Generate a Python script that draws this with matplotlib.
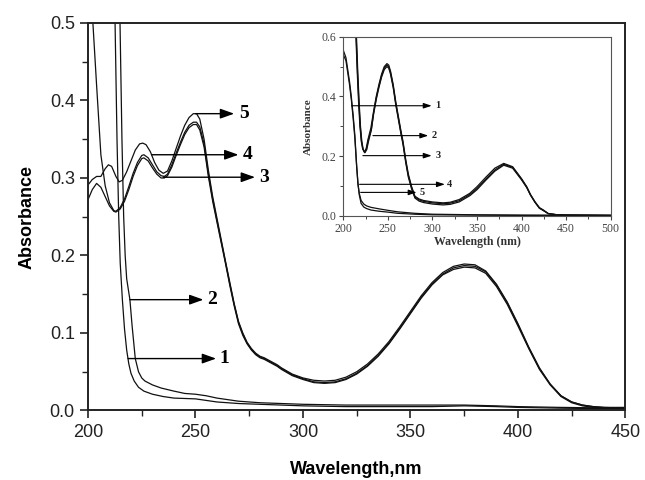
import matplotlib
matplotlib.use("Agg")
import matplotlib.pyplot as plt
from matplotlib.ticker import MultipleLocator

# ---- main panel data (wavelength nm, absorbance) ----
x_c1 = [212.3, 212.6, 213.5, 214.3, 215, 216, 217, 218, 219, 220, 221.5, 223.5, 226, 230, 235, 240,
        245, 250, 255, 260, 270, 280, 300, 320, 340, 360, 375, 390, 400, 420, 450]
y_c1 = [0.55, 0.5, 0.35, 0.25, 0.19, 0.143, 0.105, 0.078, 0.060, 0.048, 0.038, 0.030, 0.025, 0.021,
        0.018, 0.016, 0.0155, 0.015, 0.013, 0.011, 0.009, 0.008, 0.006, 0.005, 0.005, 0.005, 0.006,
        0.005, 0.004, 0.003, 0.002]

x_c2 = [214.6, 214.9, 215.8, 216.6, 217.3, 218, 219.5, 220.5, 222, 223.5, 225, 226.5, 230, 234, 240,
        245, 250, 255, 260, 270, 280, 300, 320, 340, 360, 375, 390, 400, 420, 450]
y_c2 = [0.55, 0.5, 0.35, 0.25, 0.2, 0.17, 0.143, 0.11, 0.067, 0.050, 0.042, 0.038, 0.033, 0.029, 0.025,
        0.022, 0.021, 0.019, 0.016, 0.012, 0.010, 0.008, 0.007, 0.007, 0.007, 0.007, 0.006, 0.005,
        0.004, 0.003]

# shared tail wavelengths for curves 3-5
x_tail = [252, 254, 256, 258, 260, 262, 264, 266, 268, 270, 272, 274, 276, 278, 280, 282, 284, 286,
          288, 290, 295, 300, 305, 310, 315, 320, 325, 330, 335, 340, 345, 350, 355, 360, 365, 370,
          375, 380, 385, 390, 395, 400, 405, 410, 415, 420, 425, 430, 435, 440, 450]

x_c3 = [200, 202, 204, 206, 208, 210, 212, 213, 215, 217, 219, 221, 223, 225, 226, 228, 230, 232, 234,
        235.5, 237, 239, 241, 243, 245, 247, 249, 250.5] + x_tail
y_c3 = [0.272, 0.285, 0.293, 0.288, 0.276, 0.264, 0.257, 0.256, 0.260, 0.270, 0.285, 0.302, 0.316,
        0.325, 0.326, 0.322, 0.313, 0.305, 0.300, 0.300, 0.303, 0.314, 0.329, 0.343, 0.356, 0.365,
        0.369, 0.369,
        0.362, 0.340, 0.302, 0.270, 0.243, 0.216, 0.189, 0.161, 0.135, 0.112, 0.097, 0.086, 0.078,
        0.072, 0.068, 0.066, 0.063, 0.060, 0.057, 0.053, 0.045, 0.040, 0.036, 0.035, 0.036, 0.040,
        0.047, 0.057, 0.070, 0.086, 0.105, 0.125, 0.145, 0.162, 0.175, 0.182, 0.185, 0.184, 0.177,
        0.160, 0.137, 0.109, 0.080, 0.053, 0.033, 0.018, 0.010, 0.006, 0.004, 0.003, 0.003]

x_c4 = [201, 204, 206, 208, 210, 212, 213, 215, 217, 219, 221, 223, 225, 226, 228, 230, 232, 234,
        235.5, 237, 239, 241, 243, 245, 247, 249, 250.5] + x_tail
y_c4 = [0.56, 0.42, 0.33, 0.29, 0.268, 0.258, 0.257, 0.262, 0.273, 0.289, 0.306, 0.320, 0.329, 0.330,
        0.326, 0.317, 0.308, 0.303, 0.302, 0.305, 0.317, 0.332, 0.346, 0.359, 0.368, 0.372, 0.372,
        0.366, 0.344, 0.305, 0.273, 0.245, 0.218, 0.191, 0.163, 0.137, 0.114, 0.099, 0.087, 0.079,
        0.073, 0.069, 0.067, 0.064, 0.061, 0.058, 0.054, 0.046, 0.041, 0.037, 0.036, 0.037, 0.041,
        0.048, 0.058, 0.071, 0.087, 0.106, 0.126, 0.146, 0.163, 0.176, 0.184, 0.187, 0.186, 0.179,
        0.162, 0.139, 0.111, 0.081, 0.054, 0.034, 0.019, 0.011, 0.007, 0.005, 0.004, 0.003]

x_c5 = [200, 202, 204, 206, 208, 209.5, 211, 213, 214.5, 216, 218, 220, 222, 224, 225.5, 227, 229, 231,
        233, 235, 237, 239, 241, 243, 245, 247, 249, 250.5] + x_tail
y_c5 = [0.291, 0.298, 0.302, 0.302, 0.312, 0.317, 0.315, 0.302, 0.295, 0.297, 0.308, 0.322, 0.336,
        0.344, 0.345, 0.343, 0.334, 0.320, 0.310, 0.306, 0.309, 0.322, 0.338, 0.354, 0.368, 0.378,
        0.383, 0.383,
        0.376, 0.350, 0.310, 0.276, 0.248, 0.220, 0.192, 0.165, 0.138, 0.115, 0.100, 0.088, 0.080,
        0.074, 0.070, 0.068, 0.065, 0.062, 0.059, 0.055, 0.047, 0.042, 0.039, 0.038, 0.039, 0.043,
        0.050, 0.060, 0.073, 0.089, 0.108, 0.128, 0.148, 0.165, 0.178, 0.186, 0.189, 0.188, 0.180,
        0.163, 0.140, 0.112, 0.082, 0.055, 0.034, 0.019, 0.011, 0.007, 0.005, 0.004, 0.004]

# arrows: label, y, start x, tip x, label x
main_arrows = [("5", 0.383, 250.0, 268.0, 270.5),
               ("4", 0.330, 229.6, 270.0, 272.0),
               ("3", 0.301, 235.0, 277.7, 279.5),
               ("2", 0.143, 219.5, 253.7, 255.2),
               ("1", 0.067, 218.7, 259.6, 261.0)]

# ---- inset data ----
xi_1 = [200, 203, 205, 207, 209, 211, 213, 215, 216.5, 218, 220, 223, 226, 231, 240, 250, 261, 280,
        300, 350, 400, 500]
yi_1 = [0.555, 0.53, 0.49, 0.45, 0.40, 0.34, 0.27, 0.17, 0.11, 0.07, 0.042, 0.030, 0.025, 0.020,
        0.016, 0.013, 0.009, 0.006, 0.004, 0.003, 0.002, 0.001]
xi_2 = [200, 203, 205, 207, 209, 211, 213, 215, 216.5, 218, 220, 223, 226, 231, 240, 250, 261, 280,
        300, 350, 400, 500]
yi_2 = [0.54, 0.52, 0.48, 0.44, 0.39, 0.33, 0.26, 0.165, 0.105, 0.075, 0.052, 0.040, 0.034, 0.029,
        0.024, 0.019, 0.014, 0.009, 0.006, 0.004, 0.003, 0.002]

xi_tail = [253, 256, 259, 262, 265, 267, 270, 273, 276.7, 280.4, 285, 290, 300, 312, 320, 330, 342,
           350, 360, 370, 380, 390, 400, 405.8, 410, 415, 420, 424.5, 430, 440, 450, 500]
xi_3 = [213.8, 214.8, 216.3, 217.8, 219.3, 220.8, 222.3, 224.3, 226.3, 228.3, 231.5, 234, 237, 240,
        243, 246, 249, 251] + xi_tail
yi_3 = [0.65, 0.6, 0.48, 0.38, 0.30, 0.25, 0.223, 0.212, 0.222, 0.250, 0.288, 0.34, 0.39, 0.43, 0.465,
        0.49, 0.50, 0.495,
        0.475, 0.43, 0.37, 0.32, 0.27, 0.24, 0.18, 0.13, 0.090, 0.060, 0.050, 0.045, 0.040, 0.037,
        0.039, 0.047, 0.068, 0.088, 0.120, 0.150, 0.170, 0.160, 0.121, 0.095, 0.070, 0.046, 0.026,
        0.018, 0.008, 0.004, 0.003, 0.002]
xi_4 = [213.5, 214.5, 216, 217.5, 219, 220.5, 222, 224, 226, 228, 231.5, 234, 237, 240, 243, 246, 249,
        251] + xi_tail
yi_4 = [0.65, 0.6, 0.48, 0.38, 0.30, 0.25, 0.225, 0.212, 0.224, 0.253, 0.290, 0.345, 0.395, 0.435,
        0.47, 0.495, 0.505, 0.50,
        0.48, 0.435, 0.375, 0.325, 0.275, 0.245, 0.185, 0.135, 0.095, 0.064, 0.054, 0.049, 0.044,
        0.041, 0.043, 0.051, 0.072, 0.092, 0.124, 0.154, 0.173, 0.163, 0.123, 0.097, 0.071, 0.047,
        0.027, 0.019, 0.008, 0.004, 0.003, 0.002]
xi_5 = [213.2, 214.2, 215.7, 217.2, 218.7, 220.2, 221.7, 223.7, 225.7, 227.7, 231, 234, 237, 240, 243,
        246, 249, 251] + xi_tail
yi_5 = [0.65, 0.6, 0.48, 0.38, 0.30, 0.25, 0.225, 0.214, 0.226, 0.256, 0.295, 0.35, 0.40, 0.44, 0.475,
        0.50, 0.51, 0.505,
        0.485, 0.44, 0.38, 0.33, 0.28, 0.25, 0.19, 0.14, 0.098, 0.066, 0.057, 0.052, 0.047, 0.044,
        0.046, 0.055, 0.076, 0.098, 0.130, 0.160, 0.176, 0.165, 0.125, 0.098, 0.072, 0.048, 0.028,
        0.020, 0.008, 0.004, 0.003, 0.002]

inset_arrows = [("1", 0.369, 209.4, 299.2, 303.5),
                ("2", 0.269, 233.3, 295.4, 298.7),
                ("3", 0.202, 222.0, 299.2, 303.5),
                ("4", 0.106, 218.3, 314.0, 316.7),
                ("5", 0.079, 219.5, 282.3, 285.5)]

sans = ["Liberation Sans", "DejaVu Sans"]
serif = ["Liberation Serif", "DejaVu Serif"]

fig = plt.figure(figsize=(6.45, 4.8), dpi=100)
ax = fig.add_axes([0.1364, 0.1448, 0.8333, 0.8073])

for xs, ys in [(x_c1, y_c1), (x_c2, y_c2), (x_c3, y_c3), (x_c4, y_c4), (x_c5, y_c5)]:
    ax.plot(xs, ys, color="#111111", lw=0.9)

ax.set_xlim(200, 450)
ax.set_ylim(0, 0.5)
ax.xaxis.set_major_locator(MultipleLocator(50))
ax.xaxis.set_minor_locator(MultipleLocator(25))
ax.yaxis.set_major_locator(MultipleLocator(0.1))
ax.yaxis.set_minor_locator(MultipleLocator(0.05))
ax.tick_params(which="major", direction="out", length=6, width=1.2, labelsize=13, colors="#222222")
ax.tick_params(which="minor", direction="out", length=4, width=1.0, colors="#222222")
ax.tick_params(axis="x", pad=4)
for lab in ax.get_xticklabels() + ax.get_yticklabels():
    lab.set_family(sans)
for sp in ax.spines.values():
    sp.set_linewidth(1.4)
    sp.set_color("#222222")
ax.set_xlabel("Wavelength,nm", family=sans, fontsize=13, fontweight="bold", labelpad=14)
ax.set_ylabel("Absorbance", family=sans, fontsize=13, fontweight="bold", labelpad=10)

for lab, y, x0, x1, xl in main_arrows:
    ax.annotate("", xy=(x1, y), xytext=(x0, y),
                arrowprops=dict(arrowstyle="-|>,head_length=0.7,head_width=0.25", color="black",
                                lw=1.0, shrinkA=0, shrinkB=0, mutation_scale=12))
    ax.text(xl, y, lab, family=serif, fontsize=14, fontweight="bold", va="center", ha="left")

# ---- inset ----
ins = fig.add_axes([0.5322, 0.55, 0.4146, 0.3735])
for xs, ys in [(xi_1, yi_1), (xi_2, yi_2), (xi_3, yi_3), (xi_4, yi_4), (xi_5, yi_5)]:
    ins.plot(xs, ys, color="#111111", lw=0.9)
ins.set_xlim(200, 500)
ins.set_ylim(0, 0.6)
ins.xaxis.set_major_locator(MultipleLocator(50))
ins.xaxis.set_minor_locator(MultipleLocator(25))
ins.yaxis.set_major_locator(MultipleLocator(0.2))
ins.yaxis.set_minor_locator(MultipleLocator(0.1))
ins.tick_params(which="major", direction="out", length=3, width=0.8, labelsize=8.5, colors="#444444",
                pad=2)
ins.tick_params(which="minor", direction="out", length=2, width=0.7, colors="#444444")
for lab in ins.get_xticklabels() + ins.get_yticklabels():
    lab.set_family(serif)
for sp in ins.spines.values():
    sp.set_linewidth(0.8)
    sp.set_color("#555555")
ins.set_xlabel("Wavelength (nm)", family=serif, fontsize=8.5, fontweight="bold", color="#333333",
               labelpad=1)
ins.set_ylabel("Absorbance", family=serif, fontsize=8, fontweight="bold", color="#333333",
               labelpad=6)

for lab, y, x0, x1, xl in inset_arrows:
    ins.annotate("", xy=(x1, y), xytext=(x0, y),
                 arrowprops=dict(arrowstyle="-|>,head_length=0.6,head_width=0.2", color="black",
                                 lw=0.8, shrinkA=0, shrinkB=0, mutation_scale=8))
    ins.text(xl, y, lab, family=serif, fontsize=7.5, fontweight="bold", va="center", ha="left",
             color="#222222")

fig.savefig("out.png", dpi=100)
